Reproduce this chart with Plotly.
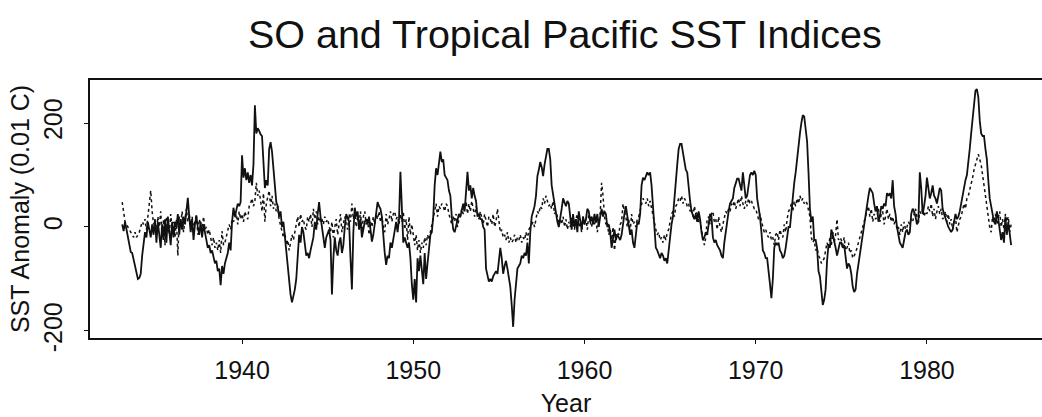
import plotly.graph_objects as go

# Monthly values, Jan 1933 .. Dec 1984 (units: 0.01 C)
start_year = 1933
end_year = 1984

# Tropical Pacific SST anomaly index (solid line), one row per year
sst_index = [
    5, -8, 10, -5, -20, -35, -48, -50, -62, -80, -92, -100,          # 1933
    -98, -90, -55, -25, -10, -20, 10, -5, -20, 5, -15, 15,           # 1934
    -30, 10, -20, -40, 5, -25, 15, -30, 20, -10, -35, 10,            # 1935
    -20, 10, 0, 25, -15, 15, -5, 20, 5, 30, 56, 20,                  # 1936
    -10, 15, -25, 5, 20, 0, -15, 10, -20, 5, -10, -30,               # 1937
    -40, -35, -50, -45, -60, -70, -65, -85, -80, -112, -75, -90,     # 1938
    -70, -60, -50, -30, -45, 10, 37, 20, 30, 45, 40, 48,             # 1939
    138, 95, 113, 90, 105, 85, 100, 80, 120, 234, 180, 190,          # 1940
    185, 178, 175, 120, 75, 90, 80, 150, 163, 145, 110, 70,          # 1941
    48, 40, 20, 30, 0, 10, -20, -40, -70, -100, -130, -145,          # 1942
    -135, -120, -100, -60, -15, -30, 0, -10, -40, -55, -50, -60,     # 1943
    -45, -30, -20, 10, -5, 25, 48, 20, 0, -25, -40, -20,             # 1944
    -10, -5, -25, -130, -60, -20, -45, -55, -30, -20, -50, -35,      # 1945
    0, 25, 17, 10, -60, -120, -10, 37, 20, 30, -5, 15,               # 1946
    -20, -5, 10, 15, 5, 20, -10, -28, -15, 10, 30, 48,               # 1947
    40, 35, 20, -20, -50, -73, -55, -60, -30, -40, -20, -10,         # 1948
    10, -10, 15, 106, 30, -30, -20, -30, -40, -30, -60, -110,        # 1949
    -140, -100, -145, -60, -85, -55, -90, -110, -50, -100, -70, -40, # 1950
    -15, -10, 20, 80, 113, 100, 120, 145, 125, 130, 100, 95,         # 1951
    90, 70, 60, 20, -5, -10, 0, 15, 25, 20, 30, 45,                  # 1952
    30, 60, 106, 70, 80, 55, 75, 60, 50, 20, 25, 15,                 # 1953
    15, 0, -5, -80, -95, -105, -100, -105, -95, -90, -85, -90,       # 1954
    -70, -40, -60, -90, -75, -65, -80, -100, -115, -150, -192, -140, # 1955
    -115, -80, -75, -70, -55, -60, -50, -55, -30, -70, -10, 20,      # 1956
    30, 40, 60, 98, 110, 125, 115, 98, 120, 135, 150, 150,           # 1957
    130, 80, 60, 40, 20, 10, 0, 15, 35, 55, 45, 40,                  # 1958
    50, 45, 20, -5, 25, 0, 15, -10, 30, 10, -5, 20,                  # 1959
    5, 15, 35, 30, 10, 20, 5, 25, 10, 25, 0, 20,                     # 1960
    35, 20, 30, 25, 0, 5, -10, -40, -20, -5, -25, -15,               # 1961
    -20, -25, -15, 10, 25, 40, 20, 5, -15, -5, -30, -40,             # 1962
    -20, 10, 5, 25, 80, 95, 90, 100, 105, 100, 105, 80,              # 1963
    40, 0, -40, -45, -55, -60, -50, -55, -65, -60, -70, -40,         # 1964
    -10, 5, 20, 60, 90, 120, 150, 160, 160, 140, 120, 110,           # 1965
    105, 70, 50, 30, 20, 15, 25, 10, 30, 15, -10, -25,               # 1966
    -20, -10, -15, 10, 25, 20, -20, -30, -25, -35, -40, -45,         # 1967
    -55, -60, -30, -5, 10, 30, 45, 50, 55, 75, 85, 93,               # 1968
    93, 80, 70, 105, 85, 55, 60, 80, 100, 105, 100, 108,             # 1969
    100, 55, 40, 20, -10, -45, -50, -60, -60, -80, -110, -137,       # 1970
    -100, -40, -30, -35, -30, -45, -50, -60, -55, -40, -20, 0,       # 1971
    0, 30, 65, 85, 105, 130, 165, 180, 200, 215, 212, 190,           # 1972
    165, 105, 35, 10, 20, -25, -25, -40, -85, -95, -120, -150,       # 1973
    -140, -120, -65, -35, -40, -5, -15, -25, -40, -55, -45, -30,     # 1974
    -30, -40, -35, -60, -80, -70, -75, -90, -115, -125, -120, -90,   # 1975
    -70, -55, -30, -10, 5, 30, 50, 60, 75, 70, 65, 45,               # 1976
    30, 40, 10, 20, 40, 35, 45, 40, 65, 60, 65, 55,                  # 1977
    90, 40, 25, 0, -15, -30, -35, -40, -25, -10, -5, -15,            # 1978
    -10, 25, 35, 30, 20, 5, 10, 105, 75, 25, 40, 60,                 # 1979
    95, 70, 55, 65, 80, 60, 55, 45, 60, 75, 70, 35,                  # 1980
    25, 15, 5, 0, -5, -10, -5, 10, 25, 15, 20, 30,                   # 1981
    45, 60, 80, 90, 100, 120, 150, 180, 205, 235, 262, 265,          # 1982
    250, 205, 180, 175, 175, 150, 130, 90, 55, 40, 20, 10,           # 1983
    5, 30, 15, -5, -25, -10, -30, 20, -15, 10, -20, -35,             # 1984
]

# Southern Oscillation based index on the same scale (dotted line)
so_index = [
    48, 30, 10, 5, 0, -5, -10, -15, -20, -10, -20, -15,              # 1933
    -10, 0, 10, 5, 15, -5, 20, 35, 70, 30, 5, 10,                    # 1934
    -15, 20, 0, 30, -20, 15, -35, 20, 5, -15, 25, -5,                # 1935
    10, -20, 15, -55, 20, 5, 30, -10, 15, 35, 10, 25,                # 1936
    5, 20, -5, 10, 25, -15, 15, 5, -10, 20, -5, 0,                   # 1937
    -15, -5, -25, -35, -20, -40, -30, -45, -25, -50, -8, -35,        # 1938
    -30, -20, -10, 5, -5, 15, 10, 20, 25, 5, 30, 15,                 # 1939
    25, 10, 30, 20, 15, 40, 45, 55, 40, 50, 85, 60,                  # 1940
    70, 50, 30, 65, 10, 45, 55, 70, 40, 60, 35, 45,                  # 1941
    30, 40, 15, 5, -5, -20, -10, -35, -25, -45, -30, -15,            # 1942
    -25, -10, 5, 20, 0, 25, 10, 15, 0, -5, 20, 10,                   # 1943
    25, 0, 35, 15, 30, 5, 20, 10, 15, 5, 20, 10,                     # 1944
    15, 5, -10, 10, -20, 0, 15, -15, 5, 25, -10, 10,                 # 1945
    20, 5, -5, 25, 10, 45, 15, 30, 0, 20, 5, 30,                     # 1946
    -10, 20, 30, 5, 15, -15, 10, 0, 20, 5, 25, 15,                   # 1947
    30, 10, 20, 0, -10, 25, 5, 15, 30, 10, 25, 30,                   # 1948
    15, 20, 5, 25, 10, 30, -5, 15, -25, 20, -15, 5,                  # 1949
    -20, -35, -15, -45, -25, -50, -30, -40, -20, -35, -15, -25,      # 1950
    -10, 5, 15, 30, 45, 20, 40, 35, 45, 40, 30, 45,                  # 1951
    40, 25, 15, 5, 20, 10, 25, 0, 15, 20, 35, 25,                    # 1952
    40, 50, 25, 45, 30, 50, 35, 20, 40, 25, 15, 30,                  # 1953
    20, 5, 25, 10, 0, 20, 15, 5, 25, 0, 10, 35,                      # 1954
    5, -10, -5, -20, -15, -25, -10, -30, -20, -30, -25, -15,         # 1955
    -30, -20, -25, -15, -30, -20, -25, -10, -25, -5, 0, 5,           # 1956
    10, 0, 20, 30, 25, 40, 35, 55, 45, 60, 50, 40,                   # 1957
    45, 35, 50, 25, 30, 20, 10, 15, 5, 20, 0, 15,                    # 1958
    -5, 10, 0, 20, 5, -5, 15, 25, 0, 10, -10, 20,                    # 1959
    5, 15, -5, 25, 10, 0, 20, 5, 15, -10, 10, 25,                    # 1960
    85, 60, 20, 5, 10, -15, -5, -25, 0, -45, -20, -10,               # 1961
    -15, 5, 10, 45, 30, 20, 0, 15, -10, 25, 5, 10,                   # 1962
    0, 15, 20, 30, 45, 55, 50, 45, 55, 40, 50, 35,                   # 1963
    20, 10, -5, -15, -10, -25, -20, -30, -15, -25, -10, -5,          # 1964
    15, 25, 30, 20, 40, 45, 55, 50, 60, 45, 55, 50,                  # 1965
    40, 45, 30, 35, 20, 40, 25, 30, 10, 15, -5, -20,                 # 1966
    -35, -20, 15, 20, 5, 25, 30, 10, 15, -5, 20, 0,                  # 1967
    -10, 5, 15, 30, 25, 35, 30, 45, 40, 50, 35, 45,                  # 1968
    55, 40, 60, 45, 35, 50, 40, 55, 45, 50, 40, 35,                  # 1969
    35, 25, 15, 25, 10, 0, -10, -5, -15, -20, -10, -25,              # 1970
    -20, -35, -15, -10, -25, -5, -15, -20, 5, -10, 15, 30,           # 1971
    35, 45, 30, 50, 40, 55, 45, 60, 50, 55, 45, 50,                  # 1972
    45, 35, 20, -20, -30, -25, -45, -40, -55, -60, -70, -65,         # 1973
    -60, -45, -30, -40, -20, -35, -10, -30, -15, 15, -25, -20,       # 1974
    -25, -35, -20, -45, -40, -30, -50, -45, -60, -55, -50, -40,      # 1975
    -30, -20, -10, 5, 15, 25, 30, 40, 20, 35, 10, 25,                # 1976
    15, 20, 35, 10, 25, 30, 5, 20, 35, 15, 25, 10,                   # 1977
    20, 5, 15, -5, 0, -15, 5, -10, 10, -5, 0, 10,                    # 1978
    5, 15, 10, 25, 35, 20, 10, 30, 25, 35, 20, 30,                   # 1979
    25, 40, 30, 45, 20, 35, 15, 30, 40, 25, 35, 15,                  # 1980
    20, 30, 10, 25, 5, 15, -5, 10, 20, -10, 5, 15,                   # 1981
    20, 30, 45, 35, 55, 60, 70, 85, 95, 110, 120, 135,               # 1982
    140, 130, 120, 100, 80, 60, 40, 15, 0, -10, 20, 10,              # 1983
    25, 5, 20, 30, 0, 15, -5, 25, 10, 20, -10, 5,                    # 1984
]

decade_ticks = [1940, 1950, 1960, 1970, 1980]
value_ticks = [-200, 0, 200]

time = [start_year + i / 12.0 for i in range(len(sst_index))]

FONT = "Liberation Sans, Arial, Helvetica, sans-serif"
INK = "#111111"

fig = go.Figure()
fig.add_trace(go.Scatter(
    x=time, y=so_index, mode="lines",
    line=dict(color=INK, width=1.5, dash="dot"),
    showlegend=False, hoverinfo="skip",
))
fig.add_trace(go.Scatter(
    x=time, y=sst_index, mode="lines",
    line=dict(color=INK, width=1.8),
    showlegend=False, hoverinfo="skip",
))

fig.update_layout(
    width=1042, height=417,
    margin=dict(l=90, r=0, t=80, b=79),
    paper_bgcolor="white", plot_bgcolor="white",
    font=dict(family=FONT, color=INK),
    title=dict(
        text="SO and Tropical Pacific SST Indices",
        font=dict(size=39.5, family=FONT, color=INK),
        x=0.542, xanchor="center", xref="container",
        y=0.918, yanchor="middle", yref="container",
    ),
    xaxis=dict(
        range=[1931.12, 1986.72],
        tickmode="array", tickvals=decade_ticks,
        ticktext=[str(v) for v in decade_ticks],
        tickfont=dict(size=25, family=FONT, color=INK),
        ticks="outside", ticklen=4, tickwidth=1.2, tickcolor=INK,
        ticklabelstandoff=5,
        showline=True, linecolor=INK, linewidth=1.6, mirror=True,
        showgrid=False, zeroline=False,
        title=dict(text="Year", font=dict(size=25, family=FONT, color=INK), standoff=13),
    ),
    yaxis=dict(
        range=[-213.5, 282.7],
        tickmode="array", tickvals=value_ticks,
        ticktext=[str(v) for v in value_ticks],
        tickangle=-90,
        tickfont=dict(size=25, family=FONT, color=INK),
        ticks="outside", ticklen=4, tickwidth=1.2, tickcolor=INK,
        ticklabelstandoff=12,
        showline=True, linecolor=INK, linewidth=1.6, mirror=False,
        showgrid=False, zeroline=False,
        title=dict(text="SST Anomaly (0.01 C)", font=dict(size=25, family=FONT, color=INK), standoff=2),
    ),
)

fig.write_html("out.html")
